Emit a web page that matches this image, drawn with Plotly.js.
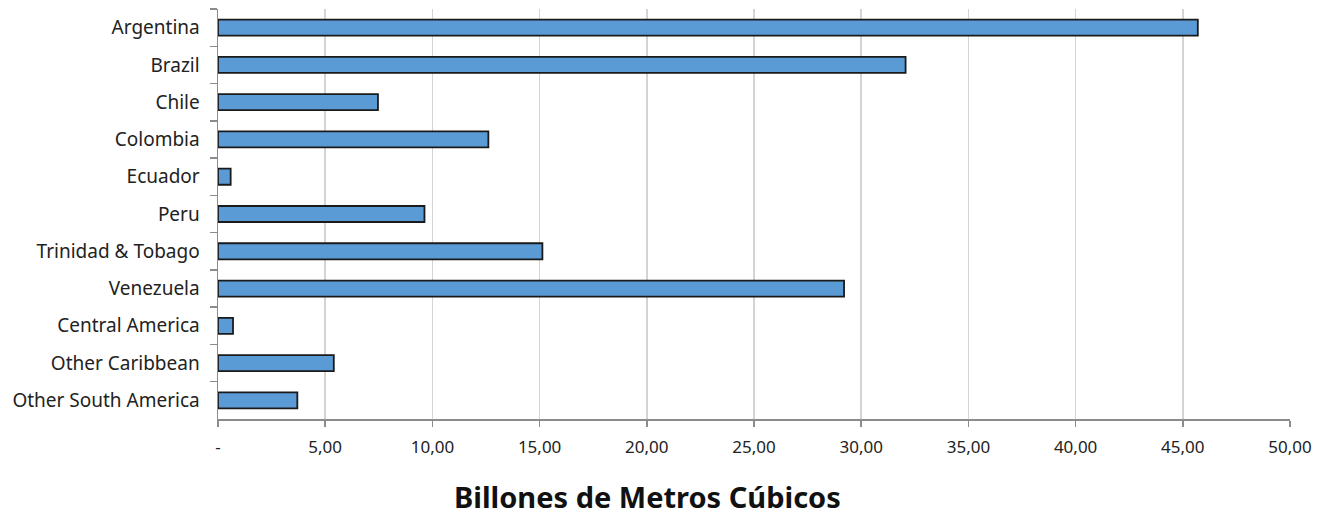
<!DOCTYPE html>
<html>
<head>
<meta charset="utf-8">
<script src="https://cdn.plot.ly/plotly-3.0.1.min.js"></script>
<style>html,body{margin:0;padding:0;background:#fff;}#chart{width:1328px;height:517px;}</style>
</head>
<body>
<div id="chart"></div>
<script>
const categories = ["Argentina","Brazil","Chile","Colombia","Ecuador","Peru","Trinidad & Tobago","Venezuela","Central America","Other Caribbean","Other South America"];
const values = [45.7, 32.07, 7.46, 12.61, 0.59, 9.63, 15.13, 29.2, 0.70, 5.40, 3.70];
const tickValues = [0,5,10,15,20,25,30,35,40,45,50];
const tickLabels = ["-","5,00","10,00","15,00","20,00","25,00","30,00","35,00","40,00","45,00","50,00"];
const xTitle = "Billones de Metros Cúbicos";

const trace = {
  type: "bar",
  orientation: "h",
  x: values,
  y: categories,
  width: 0.43,
  marker: {color: "#5B9BD5", line: {color: "#1a1a1a", width: 1.8}},
  hoverinfo: "x+y"
};

const W = 1328, H = 517;
const layout = {
  width: W, height: H,
  margin: {l: 218, r: 38, t: 9, b: 98},
  paper_bgcolor: "#ffffff", plot_bgcolor: "#ffffff",
  showlegend: false,
  font: {family: "Noto Sans, Open Sans, sans-serif", color: "#222222", size: 17},
  xaxis: {
    range: [0, 50],
    tickvals: tickValues, ticktext: tickLabels,
    showgrid: true, gridcolor: "#d4d4d4", gridwidth: 1.5,
    zeroline: false,
    showline: true, linecolor: "#8c8c8c", linewidth: 1.5,
    ticks: "outside", ticklen: 6, tickcolor: "#8c8c8c", tickwidth: 1.5,
    tickfont: {size: 17, color: "#222222"},
    ticklabelstandoff: 6,
    fixedrange: true
  },
  yaxis: {
    type: "category",
    autorange: "reversed",
    showgrid: false, zeroline: false,
    showline: true, linecolor: "#8c8c8c", linewidth: 1.5,
    ticks: "outside", tickson: "boundaries", ticklen: 7, tickcolor: "#8c8c8c", tickwidth: 1.5,
    tickfont: {size: 19, color: "#222222"},
    ticklabelstandoff: 13,
    fixedrange: true
  },
  annotations: [{
    text: "<b>" + xTitle + "</b>",
    xref: "paper", yref: "paper",
    x: (647 - 218) / (W - 218 - 38), y: -(496 - (H - 98)) / (H - 9 - 98),
    xanchor: "center", yanchor: "middle",
    showarrow: false, borderpad: 0,
    font: {family: "Noto Sans, sans-serif", size: 29, color: "#111111"}
  }]
};

Plotly.newPlot("chart", [trace], layout, {displayModeBar: false, staticPlot: true});
</script>
</body>
</html>
